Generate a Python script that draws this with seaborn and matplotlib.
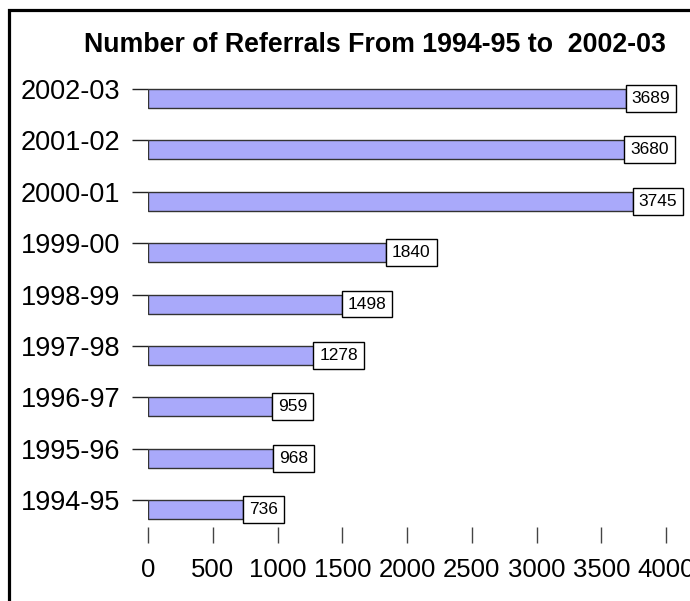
import numpy as np
import pandas as pd
import matplotlib
matplotlib.use("Agg")
import matplotlib.pyplot as plt
from matplotlib.patches import Rectangle
import seaborn as sns


### Data (top to bottom as shown in the chart)

years = ['2002-03', '2001-02', '2000-01', '1999-00', '1998-99',
         '1997-98', '1996-97', '1995-96', '1994-95']
referrals = [3689, 3680, 3745, 1840, 1498, 1278, 959, 968, 736]
x_ticks = [0, 500, 1000, 1500, 2000, 2500, 3000, 3500, 4000]

title = 'Number of Referrals From 1994-95 to  2002-03'


sns.set_theme(style='white')
plt.rcParams['font.family'] = ['Liberation Sans', 'DejaVu Sans']
plt.rcParams['text.color'] = 'black'
plt.rcParams['xtick.color'] = 'black'
plt.rcParams['ytick.color'] = 'black'

df = pd.DataFrame({'year': years, 'referrals': referrals})

fig = plt.figure(figsize=(6.9, 6.01), dpi=100)
ax = fig.add_axes([148 / 690, 1 - 527 / 601, 518 / 690, (527 - 80) / 601])

sns.barplot(data=df, x='referrals', y='year', order=years, orient='h',
            color='#A9A9FA', saturation=1, width=0.37,
            edgecolor='#333333', linewidth=1, ax=ax)

# value labels in white boxes sitting at the end of each bar
for i, v in enumerate(referrals):
    ax.annotate(str(v), xy=(v, i), xytext=(4.2, 0), textcoords='offset points',
                ha='left', va='center', fontsize=12.5, color='black',
                bbox=dict(boxstyle='square,pad=0.34', fc='white', ec='black', lw=1),
                annotation_clip=False)

ax.set_xlim(0, 4000)
ax.set_ylim(8.34, -0.36)

# ticks sit at the top edge of each bar, like the original
ax.set_yticks(np.arange(len(years)) - 0.185, labels=years)
ax.set_xticks(x_ticks, labels=[str(t) for t in x_ticks])

for s in ax.spines.values():
    s.set_visible(False)

ax.tick_params(axis='y', length=11.5, width=1, color='#222222', pad=8.5,
               labelsize=19.5, labelcolor='black', left=True, direction='out')
ax.tick_params(axis='x', length=11.5, width=1, color='#444444', pad=11,
               labelsize=18.5, labelcolor='black', bottom=True, direction='out')
ax.set_xlabel('')
ax.set_ylabel('')
ax.grid(False)

fig.text(375 / 690, 1 - 45 / 601, title, ha='center', va='center',
         fontsize=19.3, fontweight='bold', color='black')

# outer frame (only left, top visible in the crop)
fig.patches.append(Rectangle((9 / 690, -0.1), 1.2, 1.1 - 10 / 601,
                             transform=fig.transFigure, fill=False,
                             ec='black', lw=2.3, zorder=10))

plt.savefig('out.png', dpi=100)
